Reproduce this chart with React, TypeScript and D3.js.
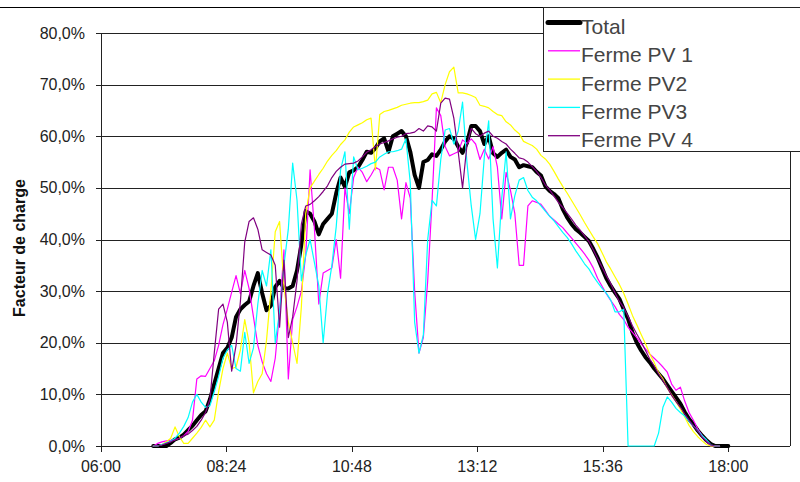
import React from 'react';
import * as d3 from 'd3';

// taille du graphique
const W = 800;
const H = 482;
const plot = { left: 101, right: 790, top: 33, bottom: 446 };

// échantillons toutes les 5 minutes à partir de 07:00 (facteur de charge en %)
const startHour = 7;
const stepMinutes = 5;

const total = [
  0, 0, 0, 0, 0.6, 1.3, 1.6, 2.2, 3.1, 3.9,
  5, 6, 6.7, 9, 12, 15, 18, 19, 21, 25,
  26.5, 27.3, 28, 31, 33.5, 29.6, 26.3, 27.2, 30.8, 32,
  30.5, 30.5, 31, 34, 39, 45.5, 45, 43.5, 41, 43,
  44, 45, 49, 52, 50.2, 53, 53.4, 54, 55.4, 57,
  56.8, 57.7, 59, 59.6, 57, 60, 60.5, 61, 60, 57,
  52.5, 50, 55, 55.4, 56.5, 56.2, 57.4, 59, 60, 59.5,
  58, 56.8, 58.7, 62, 62, 61, 58.5, 60, 56.7, 56,
  56.8, 57.4, 56, 55.5, 54, 54.4, 54.2, 54, 53.1, 52.4,
  50.3, 49.4, 48.8, 48, 45.9, 44.3, 43, 42, 41.3, 40.5,
  39.7, 38.2, 36.5, 34.5, 32.5, 31, 29.7, 28.5, 26.5, 24.6,
  22, 20, 18.5, 17.2, 16.2, 15, 14, 13, 11.8, 10.6,
  9.4, 8.2, 6.6, 5.2, 4.2, 3, 2, 1.1, 0.4, 0,
  0, 0, 0,
];

const fermePV1 = [
  0, 0.5, 0.8, 1, 1.1, 1.2, 1.5, 2, 2.8, 5,
  13, 13.6, 13.5, 15, 16.5, 19.5, 23.5, 26.5, 29.8, 33,
  29.5, 34, 30.5, 25, 19.5, 16.3, 14, 12.5, 17, 26,
  38, 13, 24.5, 27, 30, 37, 53.5, 42, 27.5, 33.5,
  34, 34.5, 40, 32.5, 50, 45, 52, 54, 53, 51.2,
  52.5, 54, 53.5, 49.6, 54, 54, 51.5, 44, 51, 48,
  30, 18, 21, 32, 47.5, 65.5, 64, 58, 56.2, 56.6,
  57, 59.3, 58.6, 59.5, 58.5, 55.5, 57.5, 55.6, 58, 54,
  44, 53, 49.5, 45, 35, 35, 46.5, 47.5, 47.2, 46.8,
  45.7, 44.5, 43.8, 43, 42.3, 41.3, 40.3, 39.3, 38.3, 37.2,
  36, 34.5, 32.5, 31, 29.5, 28.2, 27, 25.5, 24.5, 23,
  22, 21, 19.8, 18.8, 17.8, 17, 16.2, 15.3, 14.3, 12,
  10.8, 11.4, 8.7, 6.5, 5, 3.3, 2, 0.9, 0, 0,
  0, null, null,
];

const fermePV2 = [
  0, 0, 0.3, 0.8, 1.5, 3.7, 1.8, 0.5, 0.5, 1.5,
  2.5, 3.6, 5, 3.7, 5, 10.5, 15, 18, 15, 15.3,
  18.6, 24.5, 20, 10.3, 12.5, 14, 20.5, 30, 41.5, 43.5,
  31, 24, 20, 16, 27, 45, 50, 51.3, 52.6, 53.8,
  55.2, 56.3, 57.2, 58.4, 59.3, 60.8, 61.8, 62.2, 62.6, 63.2,
  63.5, 53.5, 64.2, 64.8, 65, 65.3, 65.6, 66, 66.2, 66.4,
  66.5, 66.5, 66.7, 67, 68.2, 68.5, 66.5, 70, 72.5, 73.4,
  68.4, 68.4, 68.2, 67.9, 67.5, 66, 65.8, 65.5, 64.8, 64.2,
  64, 62.8, 62.2, 61.2, 60.5, 59, 58.6, 58.2, 57.5, 56.3,
  55.6, 54.6, 53.2, 51.7, 50.3, 49, 47.6, 46.2, 44.8, 43.3,
  41.9, 40.5, 39.2, 37.5, 35.7, 34.3, 32.8, 31.3, 29.6, 27.5,
  25.3, 23.5, 21.6, 19.8, 17.8, 16.2, 14.2, 13, 11.2, 9.9,
  8.6, 7.2, 5.6, 4, 2.8, 1.8, 1, 0.3, 0, 0,
  0, null, null,
];

const fermePV3 = [
  0, 0, 0.3, 0.6, 0.9, 1.5, 2.5, 3.8, 5.5, 8.5,
  10, 8.5, 7.5, 7.8, 10.5, 13.5, 17, 18.6, 19.5, 15,
  14.5, 22, 16, 19, 27.5, 34, 31, 38, 20, 26,
  35, 42, 54.8, 47.6, 32, 37, 40, 35.5, 31, 20,
  29.5, 35, 42.5, 53.5, 57, 42, 56, 53.5, 53.8, 54.2,
  54.7, 55, 56, 56.5, 57, 57, 57.2, 57.5, 59.5, 51,
  24, 18, 21.5, 40, 47.6, 46.5, 55.5, 61.2, 61.5, 58.5,
  61, 66.6, 55, 46.5, 40, 45, 56, 63, 44, 34.5,
  48, 57, 44, 48.5, 51.5, 52, 49.5, 48.2, 47.5, 46.5,
  45.5, 44.5, 43.6, 42.5, 41.4, 40.4, 39.2, 37.8, 36.6, 35.3,
  34.3, 32.9, 31.7, 30.6, 29.6, 28.3, 26, 26, 26.5, 0,
  0, 0, 0, 0, 0, 0, 2.5, 7.5, 9.5, 8.5,
  7.3, 6.5, 5.8, 4.8, 3.9, 3, 2, 1.2, 0.2, 0,
  0, null, null,
];

const fermePV4 = [
  0, 0, 0.2, 0.5, 0.8, 1.2, 1.5, 2, 2.3, 3,
  3.8, 5, 6.5, 9, 18, 26.5, 27.5, 24, 14.5, 19.5,
  28, 39.5, 43.5, 44.2, 42, 38, 37.5, 37, 35, 23,
  36, 21, 25, 32, 43, 46.5, 46.8, 47.5, 48.3, 49.3,
  50.4, 52, 53.2, 54, 54.6, 54.7, 54.8, 55.2, 56, 56.9,
  57.4, 58, 58.5, 58.8, 59.1, 59.5, 59.8, 60, 60.5, 60.6,
  60.8, 61.5, 61, 62, 61.8, 61, 66.4, 67.4, 67.2, 63.5,
  57, 50, 58.2, 61.5, 60.5, 60, 60.6, 61, 60, 59.6,
  59, 58.5, 57.5, 56.7, 55.8, 55.6, 55, 54.1, 53.2, 52,
  50.6, 49.6, 48.4, 47.2, 46.2, 45.1, 44, 42.8, 41.8, 40.7,
  39.6, 38, 36.3, 34.7, 33, 31.5, 29.7, 28, 26.8, 25.1,
  23.3, 21.7, 20.2, 18.5, 16.8, 15.5, 14, 12.7, 11.3, 9.8,
  8.6, 7.5, 6.2, 5, 3.9, 2.9, 1.7, 0.9, 0.2, 0,
  0, null, null,
];

const seriesNames = ['Total', 'Ferme PV 1', 'Ferme PV2', 'Ferme PV3', 'Ferme PV 4'];
const seriesColors = ['#000000', '#ff00ff', '#ffff00', '#00ffff', '#800080'];
const seriesWidths = [4, 1.2, 1.2, 1.2, 1.2];
const seriesValues = [total, fermePV1, fermePV2, fermePV3, fermePV4];

const xTicks = [6, 8.4, 10.8, 13.2, 15.6, 18];
const yTicks = [0, 10, 20, 30, 40, 50, 60, 70, 80];

const fmtHour = (h: number) => {
  const mins = Math.round(h * 60);
  return `${String(Math.floor(mins / 60)).padStart(2, '0')}:${String(mins % 60).padStart(2, '0')}`;
};
const fmtPct = (v: number) => v.toFixed(1).replace('.', ',') + '%';

const font = 'Arial, "Liberation Sans", sans-serif';

export default function App() {
  const x = d3.scaleLinear().domain([6, 19.2]).range([plot.left, plot.right + 1]);
  const y = d3.scaleLinear().domain([0, 80]).range([plot.bottom, plot.top]);

  const times = total.map((_, i) => startHour + (i * stepMinutes) / 60);

  const line = d3
    .line<number | null>()
    .defined((d) => d != null)
    .x((_, i) => x(times[i]))
    .y((d) => y(d as number));

  return (
    <svg
      width={W}
      height={H}
      style={{ position: 'absolute', left: 0, top: 0, background: '#fff' }}
      fontFamily={font}
    >
      {/* bord supérieur */}
      <line x1={0} x2={W} y1={7.5} y2={7.5} stroke="#000" strokeWidth={1} />

      {/* grille */}
      {yTicks.map((t) => (
        <line key={'g' + t} x1={plot.left} x2={plot.right} y1={Math.round(y(t)) + 0.5} y2={Math.round(y(t)) + 0.5} stroke="#222" strokeWidth={1} />
      ))}
      <line x1={plot.right + 0.5} x2={plot.right + 0.5} y1={plot.top} y2={plot.bottom} stroke="#222" />

      {/* axe Y */}
      <line x1={plot.left + 0.5} x2={plot.left + 0.5} y1={plot.top} y2={plot.bottom + 0.5} stroke="#222" />
      {yTicks.map((t) => (
        <g key={'y' + t}>
          <line x1={plot.left - 5} x2={plot.left} y1={Math.round(y(t)) + 0.5} y2={Math.round(y(t)) + 0.5} stroke="#222" />
          <text x={85} y={y(t) + 5.5} textAnchor="end" fontSize={16} fill="#222">
            {fmtPct(t)}
          </text>
        </g>
      ))}

      {/* axe X */}
      {xTicks.map((t) => (
        <g key={'x' + t}>
          <line x1={Math.round(x(t)) + 0.5} x2={Math.round(x(t)) + 0.5} y1={plot.bottom} y2={plot.bottom + 6} stroke="#222" />
          <text x={x(t)} y={472} textAnchor="middle" fontSize={16} fill="#222">
            {fmtHour(t)}
          </text>
        </g>
      ))}

      <text transform="translate(25,248) rotate(-90)" textAnchor="middle" fontSize={16} fontWeight="bold" fill="#111">
        Facteur de charge
      </text>

      {/* séries */}
      {seriesValues.map((vals, s) => (
        <path
          key={seriesNames[s]}
          d={line(vals) || ''}
          fill="none"
          stroke={seriesColors[s]}
          strokeWidth={seriesWidths[s]}
          strokeLinejoin="round"
          strokeLinecap="round"
        />
      ))}

      {/* légende */}
      <rect x={543.5} y={7.5} width={270} height={144} fill="#fff" stroke="#222" strokeWidth={1} />
      {seriesNames.map((name, s) => {
        const by = 34 + s * 28.3;
        return (
          <g key={'l' + name}>
            <line x1={548} x2={580} y1={by - 11.5} y2={by - 11.5} stroke={seriesColors[s]} strokeWidth={s === 0 ? 5 : 1.3} strokeLinecap={s === 0 ? 'round' : 'butt'} />
            <text x={581} y={by} fontSize={21} fill="#444">
              {name}
            </text>
          </g>
        );
      })}
    </svg>
  );
}
